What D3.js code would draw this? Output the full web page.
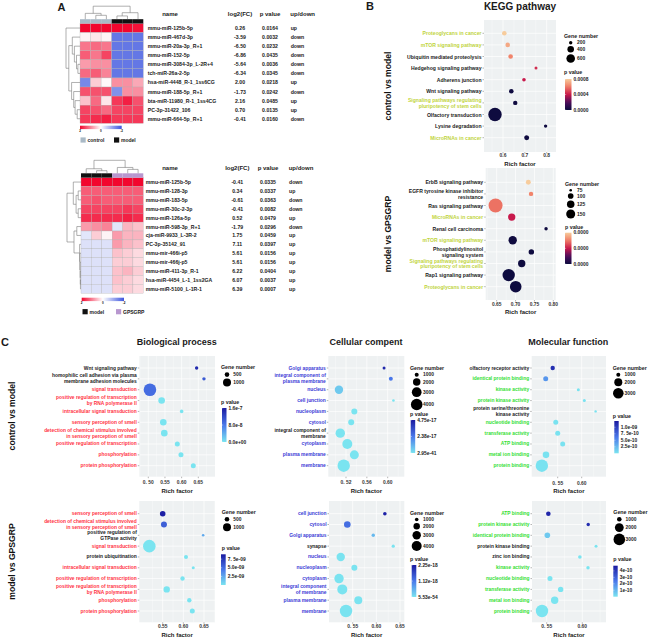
<!DOCTYPE html>
<html>
<head>
<meta charset="utf-8">
<script src="https://cdn.jsdelivr.net/npm/d3@7"></script>
<style>
body { margin: 0; background: #fff; }
svg { font-family: "Liberation Sans", Arial, sans-serif; font-weight: bold; }
</style>
</head>
<body>
<div id="chart"></div>
<script>
// ---------- Panel A : heatmaps + tables ----------
const ctrlMirs = ["mmu-miR-125b-5p","mmu-miR-467d-3p","mmu-miR-20a-3p_R+1","mmu-miR-152-5p","mmu-miR-3084-3p_L-2R+4","tch-miR-26a-2-5p","hsa-miR-4448_R-1_1ss6CG","mmu-miR-188-5p_R+1","bta-miR-11980_R-1_1ss4CG","PC-3p-31422_106","mmu-miR-664-5p_R+1"];
const ctrlLog2fc = [0.26,-3.59,-6.50,-6.86,-5.64,-6.34,2.00,-1.73,2.16,0.70,-0.41];
const ctrlPval = [0.0164,0.0032,0.0232,0.0435,0.0036,0.0345,0.0218,0.0242,0.0485,0.0135,0.0160];
const ctrlUpDown = ["up","down","down","down","down","down","up","down","up","up","down"];
const ctrlGroups = ["control","control","control","model","model","model"];
const ctrlHeat = [
  [2,2,2,2,2,1.9],
  [0.1,0.2,0.1,-1.6,-1.6,-1.6],
  [1.1,1.2,1.1,-1.6,-1.6,-1.6],
  [1.3,1.1,1.5,-1.6,-1.6,-1.6],
  [0.8,0.9,0.9,-1.6,-1.6,-1.6],
  [1.2,1.3,1.0,-1.6,-1.6,-1.6],
  [-1.4,0.4,0.05,0.9,0.9,0.7],
  [1.4,1.4,1.4,-1.3,0.9,0.9],
  [0.5,1.2,0.2,1.6,1.8,1.4],
  [1.5,1.4,1.2,1.5,1.5,1.5],
  [1.6,1.7,1.8,1.6,1.6,1.6]
];
const ctrlColTree = [1, [0.45, 0, [0.3, 1, 2]], [0.5, [0.25, 3, 4], 5]];
const ctrlRowTree = [1, 0, [0.8, [0.55, 1, [0.4, 2, [0.25, 3, [0.15, 4, 5]]]], [0.6, 6, [0.45, 7, [0.35, 8, [0.2, 9, 10]]]]]];

const gpsMirs = ["mmu-miR-125b-5p","mmu-miR-128-3p","mmu-miR-183-5p","mmu-miR-30c-2-3p","mmu-miR-126a-5p","mmu-miR-598-3p_R+1","cja-miR-9933_L-3R-2","PC-3p-35142_91","mmu-mir-466i-p5","mmu-mir-466j-p5","mmu-miR-411-3p_R-1","hsa-miR-4454_L-1_1ss2GA","mmu-miR-5100_L-1R-1"];
const gpsLog2fc = [-0.41,0.34,-0.61,-0.41,0.52,-1.79,1.75,7.11,5.61,5.61,6.22,6.07,6.39];
const gpsPval = [0.0335,0.0337,0.0363,0.0082,0.0479,0.0296,0.0459,0.0397,0.0156,0.0156,0.0404,0.0037,0.0007];
const gpsUpDown = ["down","up","down","down","up","down","up","up","up","up","up","up","up"];
const gpsGroups = ["model","model","model","GPSGRP","GPSGRP","GPSGRP"];
const gpsHeat = [
  [2,2,2,2,2,2],
  [1.3,1.3,1.3,1.3,1.3,1.3],
  [1.3,1.4,1.3,1.3,1.3,1.3],
  [1.5,1.5,1.5,1.5,1.6,1.5],
  [1.7,1.7,1.7,1.7,1.8,1.7],
  [0.8,0.9,1.0,-0.3,0.6,0.5],
  [-0.3,0.4,0.1,0.8,0.6,0.6],
  [-0.35,-0.35,-0.35,0.8,0.6,0.5],
  [-0.35,-0.35,-0.35,0.5,0.4,0.3],
  [-0.35,-0.35,-0.35,0.4,0.4,0.3],
  [-0.35,-0.35,-0.35,0.5,0.6,0.4],
  [-0.35,-0.35,-0.35,0.5,0.4,0.3],
  [-0.35,-0.35,-0.35,0.4,0.4,0.3]
];
const gpsColTree = [1, [0.35, 0, [0.2, 1, 2]], [0.45, 3, [0.3, 4, 5]]];
const gpsRowTree = [1, [0.55, 0, [0.35, [0.2, 1, 2], [0.2, 3, 4]]], [0.5, [0.3, 5, 6], [0.1, 7, [0.08, 8, [0.06, 9, [0.05, 10, [0.04, 11, 12]]]]]]];
const heatKeyValues = [2, 0, -2];
const heatKeyLabels = ["2", "0", "-2"];

// ---------- Panel B : KEGG ----------
const kCtrlTerms = ["Proteoglycans in cancer","mTOR signaling pathway","Ubiquitin mediated proteolysis","Hedgehog signaling pathway","Adherens junction","Wnt signaling pathway","Signaling pathways regulating\npluripotency of stem cells","Olfactory transduction","Lysine degradation","MicroRNAs in cancer"];
const kCtrlRich = [0.606,0.6215,0.635,0.751,0.696,0.638,0.656,0.5634,0.795,0.7085];
const kCtrlGenes = [261,261,261,184,209,261,250,1276,200,286];
const kCtrlP = [0.00080,0.00071,0.00062,0.00044,0.00040,0.00001,0.00001,0.000005,0.00001,0.00001];
const kCtrlMark = [1,1,0,0,0,0,1,0,0,1];
const kCtrlSizeBreaks = [200,400,600];
const kCtrlPTicks = [0.0008,0.0004,0];
const kCtrlXTicks = [0.6,0.7,0.8];
const kCtrlXLabels = ["0.6","0.7","0.8"];

const kGpsTerms = ["ErbB signaling pathway","EGFR tyrosine kinase inhibitor\nresistance","Ras signaling pathway","MicroRNAs in cancer","Renal cell carcinoma","mTOR signaling pathway","Phosphatidylinositol\nsignaling system","Signaling pathways regulating\npluripotency of stem cells","Rap1 signaling pathway","Proteoglycans in cancer"];
const kGpsRich = [0.7338,0.741,0.647,0.6898,0.7808,0.6924,0.7418,0.7163,0.6818,0.7004];
const kGpsGenes = [93,88,266,123,80,139,98,123,223,204];
const kGpsP = [0.000040,0.000031,0.000029,0.000020,0.0000005,0.0000004,0.0000003,0.0000003,0.0000002,0.0000002];
const kGpsMark = [0,0,0,1,0,1,0,1,0,1];
const kGpsSizeBreaks = [75,100,125,150];
const kGpsPTicks = [0.00004,0.00002,0];
const kGpsXTicks = [0.65,0.70,0.75,0.80];
const kGpsXLabels = ["0.65","0.70","0.75","0.80"];

// ---------- Panel C : GO ----------
const bpCtrlTerms = ["Wnt signaling pathway","homophilic cell adhesion via plasma\nmembrane adhesion molecules","signal transduction","positive regulation of transcription\nby RNA polymerase II","intracellular signal transduction","sensory perception of smell","detection of chemical stimulus involved\nin sensory perception of smell","positive regulation of transcription","phosphorylation","protein phosphorylation"];
const bpCtrlRich = [0.645,0.667,0.505,0.540,0.600,0.545,0.548,0.587,0.598,0.635];
const bpCtrlGenes = [388,388,2106,762,404,762,762,545,545,545];
const bpCtrlP = [1.45e-7,1.05e-7,0.9e-7,1e-10,1e-10,1e-10,1e-10,1e-10,1e-10,1e-10];
const bpCtrlMark = [0,0,1,1,1,1,1,1,1,1];
const bpCtrlPTicks = [1.6e-7,8.0e-8,0];
const bpCtrlPLabels = ["1.6e-7","8.0e-8","0.0e+00"];
const bpCtrlXTicks = [0.50,0.55,0.60,0.65];
const bpCtrlXLabels = ["0. 50","0.55","0.60","0.65"];

const bpGpsTerms = ["sensory perception of smell","detection of chemical stimulus involved\nin sensory perception of smell","positive regulation of\nGTPase activity","signal transduction","protein ubiquitination","intracellular signal transduction","positive regulation of transcription","positive regulation of transcription\nby RNA polymerase II","phosphorylation","protein phosphorylation"];
const bpGpsRich = [0.55,0.553,0.648,0.5176,0.6064,0.624,0.598,0.5597,0.6144,0.6217];
const bpGpsGenes = [619,673,332,2106,440,360,479,731,479,545];
const bpGpsP = [8.6e-9,5.6e-9,2.4e-9,2e-11,2e-11,2e-11,2e-11,2e-11,2e-11,2e-11];
const bpGpsMark = [1,1,0,1,0,1,1,1,1,1];
const bpGpsPTicks = [7.5e-9,5.0e-9,2.5e-9];
const bpGpsPLabels = ["7. 5e-09","5.0e-09","2.5e-09"];
const bpGpsXTicks = [0.55,0.60,0.65];
const bpGpsXLabels = ["0.55","0.60","0.65"];
const bpSizeBreaks = [500,1000];

const ccCtrlTerms = ["Golgi apparatus","integral component of\nplasma membrane","nucleus","cell junction","nucleoplasm","cytosol","integral component of\nmembrane","cytoplasm","plasma membrane","membrane"];
const ccCtrlRich = [0.593,0.606,0.5065,0.611,0.536,0.530,0.509,0.5225,0.536,0.5156];
const ccCtrlGenes = [823,1000,2382,766,1507,1507,2833,3128,2647,4490];
const ccCtrlP = [4.4e-17,2.4e-17,6e-18,1e-19,1e-19,1e-19,1e-19,1e-19,1e-19,1e-19];
const ccCtrlMark = [1,1,1,1,1,1,0,1,1,1];
const ccCtrlPTicks = [4.75e-17,2.38e-17,2.95e-41];
const ccCtrlPLabels = ["4.75e-17","2.38e-17","2.95e-41"];
const ccCtrlXTicks = [0.52,0.56,0.60];
const ccCtrlXLabels = ["0. 52","0.56","0.60"];

const ccGpsTerms = ["cell junction","cytosol","Golgi apparatus","synapse","nucleus","nucleoplasm","cytoplasm","integral component\nof membrane","plasma membrane","membrane"];
const ccGpsRich = [0.618,0.5386,0.5935,0.6357,0.5247,0.5535,0.5211,0.528,0.5618,0.5359];
const ccGpsGenes = [1000,2055,952,906,2985,1794,3599,4000,2759,5853];
const ccGpsP = [2.15e-18,1.25e-18,4.5e-19,1e-20,1e-20,1e-20,1e-20,1e-20,1e-20,1e-20];
const ccGpsMark = [1,1,1,0,1,1,1,1,1,1];
const ccGpsPTicks = [2.25e-18,1.12e-18,5.53e-54];
const ccGpsPLabels = ["2.25e-18","1.12e-18","5.53e-54"];
const ccGpsXTicks = [0.55,0.60,0.65];
const ccGpsXLabels = ["0. 55","0.60","0.65"];
const ccSizeBreaks = [1000,2000,3000,4000];

const mfCtrlTerms = ["olfactory receptor activity","identical protein binding","kinase activity","protein kinase activity","protein serine/threonine\nkinase activity","nucleotide binding","transferase activity","ATP binding","metal ion binding","protein binding"];
const mfCtrlRich = [0.5396,0.525,0.593,0.6055,0.629,0.546,0.55,0.5604,0.5256,0.517];
const mfCtrlGenes = [1070,1187,855,855,788,1187,1187,1187,1572,3858];
const mfCtrlP = [1.1e-9,4.5e-10,1e-11,1e-11,1e-11,1e-11,1e-11,1e-11,1e-11,1e-11];
const mfCtrlMark = [0,1,1,1,0,1,1,1,1,1];
const mfCtrlPTicks = [1.0e-9,7.5e-10,5.0e-10,2.5e-10];
const mfCtrlPLabels = ["1.0e-09","7. 5e-10","5.0e-10","2.5e-10"];
const mfCtrlXTicks = [0.55,0.60];
const mfCtrlXLabels = ["0. 55","0.60"];

const mfGpsTerms = ["ATP binding","protein kinase activity","identical protein binding","protein kinase binding","zinc ion binding","kinase activity","nucleotide binding","transferase activity","metal ion binding","protein binding"];
const mfGpsRich = [0.5523,0.6083,0.5509,0.6193,0.5966,0.608,0.5546,0.5696,0.5612,0.5434];
const mfGpsGenes = [1000,831,1180,785,855,831,1068,1141,1593,3340];
const mfGpsP = [4.5e-10,4.3e-10,6e-11,1e-12,1e-12,1e-12,1e-12,1e-12,1e-12,1e-12];
const mfGpsMark = [1,1,1,0,0,1,1,1,1,1];
const mfGpsPTicks = [4e-10,3e-10,2e-10,1e-10];
const mfGpsPLabels = ["4e-10","3e-10","2e-10","1e-10"];
const mfGpsXTicks = [0.55,0.60];
const mfGpsXLabels = ["0. 55","0.60"];
const mfSizeBreaks = [1000,2000,3000];

// ---------- drawing ----------
const W = 650, H = 639;
const svg = d3.select("#chart").append("svg").attr("width", W).attr("height", H);
const defs = svg.append("defs");
let gradId = 0;

function label(g, str, x, y, size, anchor, fill, lineH) {
  const lines = str.split("\n");
  lines.forEach(function(l, i) {
    g.append("text")
      .attr("x", x)
      .attr("y", y + (i - (lines.length - 1) / 2) * (lineH || size * 1.2))
      .attr("dominant-baseline", "central")
      .attr("text-anchor", anchor)
      .attr("font-size", size)
      .attr("fill", fill || "#1a1a1a")
      .text(l);
  });
}

/* heatmap with dendrograms and table */
const heatColor = d3.scaleLinear().domain([-2, 0, 2]).range(["#3d55de", "#ffffff", "#f2062e"]);
const groupColor = {control: "#a9b9c6", model: "#111111", GPSGRP: "#b897cf"};

function drawTree(g, tree, leafPos, base, depth, orient) {
  const hs = d3.scaleLinear().domain([0, 1]).range([0, depth]);
  function walk(node) {
    if (typeof node === "number") return {p: leafPos(node), h: 0};
    const A = walk(node[1]), B = walk(node[2]);
    const n = base - hs(node[0]);
    [A, B].forEach(function(c) {
      const c0 = base - hs(c.h);
      if (orient === "left") g.append("line").attr("x1", c0).attr("x2", n).attr("y1", c.p).attr("y2", c.p);
      else g.append("line").attr("y1", c0).attr("y2", n).attr("x1", c.p).attr("x2", c.p);
    });
    if (orient === "left") g.append("line").attr("x1", n).attr("x2", n).attr("y1", A.p).attr("y2", B.p);
    else g.append("line").attr("y1", n).attr("y2", n).attr("x1", A.p).attr("x2", B.p);
    return {p: (A.p + B.p) / 2, h: node[0]};
  }
  walk(tree);
}

function heatPanel(d, L) {
  const g = svg.append("g");
  const x = d3.scaleBand().domain(d3.range(6)).range([L.hx0, L.hx1]);
  const y = d3.scaleBand().domain(d3.range(d.names.length)).range([L.hy0, L.hy1]);
  const cells = [];
  d.heat.forEach(function(row, r) { row.forEach(function(v, c) { cells.push({r: r, c: c, v: v}); }); });
  g.selectAll("rect.cell").data(cells).join("rect")
    .attr("x", c => x(c.c)).attr("y", c => y(c.r))
    .attr("width", x.bandwidth()).attr("height", y.bandwidth())
    .attr("fill", c => heatColor(c.v)).attr("stroke", "#b0b0b0").attr("stroke-width", 0.3);
  // annotation bar
  g.selectAll("rect.ann").data(d.groups).join("rect")
    .attr("x", (k, i) => x(i)).attr("y", L.hy0 - 4.3).attr("width", x.bandwidth()).attr("height", 4.3)
    .attr("fill", k => groupColor[k]);
  const tg = g.append("g").attr("stroke", "#7a7a7a").attr("stroke-width", 0.6);
  drawTree(tg, d.colTree, i => x(i) + x.bandwidth() / 2, L.hy0 - 4.3, 13, "top");
  drawTree(tg, d.rowTree, i => y(i) + y.bandwidth() / 2, L.hx0, 14, "left");
  // colour key
  const gid = "hk" + (gradId++);
  const gr = defs.append("linearGradient").attr("id", gid);
  d.keyValues.forEach(function(v, i) {
    gr.append("stop").attr("offset", i / (d.keyValues.length - 1)).attr("stop-color", heatColor(v));
  });
  const kx = d3.scalePoint().domain(d.keyValues).range([L.kx0, L.kx1]);
  g.append("rect").attr("x", L.kx0).attr("y", L.ky).attr("width", L.kx1 - L.kx0).attr("height", 3.4).attr("fill", "url(#" + gid + ")");
  d.keyValues.forEach(function(v, i) {
    g.append("text").attr("x", kx(v)).attr("y", L.ky + 6.5).attr("text-anchor", "middle").attr("font-size", 3).text(d.keyLabels[i]);
  });
  // group legend
  const uniq = Array.from(new Set(d.groups));
  uniq.forEach(function(k, i) {
    const lx = L.lx[i];
    g.append("rect").attr("x", lx).attr("y", L.ly - 2.6).attr("width", 5.2).attr("height", 5.2).attr("fill", groupColor[k]);
    label(g, k, lx + 7, L.ly, 5, "start");
  });
  // table
  const hy = L.tHead;
  label(g, "name", L.cName, hy, 6, "middle");
  label(g, "log2(FC)", L.cFc, hy, 6, "middle");
  label(g, "p value", L.cP, hy, 6, "middle");
  label(g, "up/down", L.cUd + 12, hy, 6, "middle");
  const f2 = d3.format(".2f"), f4 = d3.format(".4f");
  d.names.forEach(function(n, i) {
    const cy = y(i) + y.bandwidth() / 2;
    label(g, n, L.nameX, cy, 5.2, "start", "#222");
    label(g, f2(d.fc[i]).replace("−", "-"), L.cFc, cy, 5.2, "middle");
    label(g, f4(d.p[i]), L.cP, cy, 5.2, "middle");
    label(g, d.ud[i], L.cUd, cy, 5.2, "start");
  });
}

heatPanel({names: ctrlMirs, fc: ctrlLog2fc, p: ctrlPval, ud: ctrlUpDown, heat: ctrlHeat, groups: ctrlGroups,
  colTree: ctrlColTree, rowTree: ctrlRowTree, keyValues: heatKeyValues, keyLabels: heatKeyLabels},
  {hx0: 80, hx1: 143.3, hy0: 23.5, hy1: 123.3, kx0: 80, kx1: 121.7, ky: 125.7, lx: [80.5, 114], ly: 140,
   tHead: 14.3, cName: 170, cFc: 240, cP: 270, cUd: 290.7, nameX: 147.7});

heatPanel({names: gpsMirs, fc: gpsLog2fc, p: gpsPval, ud: gpsUpDown, heat: gpsHeat, groups: gpsGroups,
  colTree: gpsColTree, rowTree: gpsRowTree, keyValues: heatKeyValues, keyLabels: heatKeyLabels},
  {hx0: 81, hx1: 143.3, hy0: 177.6, hy1: 293.3, kx0: 81.7, kx1: 124, ky: 297.7, lx: [82.5, 116], ly: 311.7,
   tHead: 168.3, cName: 170, cFc: 237.3, cP: 268, cUd: 289, nameX: 145.7});

/* bubble panels */
function dotPanel(d, L) {
  const g = svg.append("g");
  const x = d3.scaleLinear().domain([d.xTicks[0], d.xTicks[d.xTicks.length - 1]]).range(L.xr);
  const y = d3.scalePoint().domain(d3.range(d.terms.length)).range([L.rowTop, L.rowBot]);
  const sb = d.sizeBreaks;
  const area = d3.scaleLinear().domain([sb[0], sb[sb.length - 1]]).range([L.rA * L.rA, L.rB * L.rB]);
  const rad = n => Math.sqrt(Math.max(0.7, area(n)));
  const pd = d.pDomain;
  const color = d3.scaleLinear()
    .domain(L.colors.map((c, i) => pd[0] + (pd[1] - pd[0]) * i / (L.colors.length - 1)))
    .range(L.colors);

  g.append("rect").attr("x", L.x0).attr("y", L.y0).attr("width", L.x1 - L.x0).attr("height", L.y1 - L.y0).attr("fill", "#eef1f2");
  const step = x(d.xTicks[1]) - x(d.xTicks[0]);
  const minor = [];
  for (let px = x(d.xTicks[0]) - step * 1.5; px < L.x1; px += step) minor.push(px);
  g.selectAll("line.mi").data(minor.filter(p => p > L.x0)).join("line")
    .attr("x1", p => p).attr("x2", p => p).attr("y1", L.y0).attr("y2", L.y1).attr("stroke", "#fff").attr("stroke-width", 0.35);
  g.selectAll("line.mj").data(d.xTicks).join("line")
    .attr("x1", v => x(v)).attr("x2", v => x(v)).attr("y1", L.y0).attr("y2", L.y1).attr("stroke", "#fff").attr("stroke-width", 0.7);
  g.selectAll("line.rw").data(d.terms.map((t, i) => i)).join("line")
    .attr("x1", L.x0).attr("x2", L.x1).attr("y1", i => y(i)).attr("y2", i => y(i)).attr("stroke", "#fff").attr("stroke-width", 0.7);

  g.selectAll("circle.dot").data(d.terms.map((t, i) => i)).join("circle")
    .attr("cx", i => x(d.rich[i])).attr("cy", i => y(i))
    .attr("r", i => rad(d.genes[i])).attr("fill", i => color(d.pval[i]));

  d.terms.forEach(function(t, i) {
    g.append("line").attr("x1", L.x0 - 1.5).attr("x2", L.x0).attr("y1", y(i)).attr("y2", y(i)).attr("stroke", "#444").attr("stroke-width", 0.4);
    label(g, t, L.x0 - 2.5, y(i), L.fs, "end", d.mark[i] ? L.markColor : "#1a1a1a", 5.9);
  });
  d.xTicks.forEach(function(v, i) {
    g.append("line").attr("x1", x(v)).attr("x2", x(v)).attr("y1", L.y1).attr("y2", L.y1 + 1.5).attr("stroke", "#444").attr("stroke-width", 0.4);
    label(g, d.xLabels[i], x(v), L.tickY, 4.9, "middle", "#333");
  });
  label(g, "Rich factor", (L.x0 + L.x1) / 2, L.rfY, 6, "middle");

  // size legend
  const Lg = L.leg;
  label(g, "Gene number", Lg.x, Lg.gy, 5.3, "start");
  let cy = Lg.gy + 5, prev = 0;
  sb.forEach(function(b, i) {
    const r = rad(b);
    cy += (i === 0 ? r : prev + r + 1.6);
    prev = r;
    g.append("circle").attr("cx", Lg.cx).attr("cy", cy).attr("r", r).attr("fill", "#000");
    label(g, d3.format("d")(b), Lg.cx + 6.3, cy, 4.9, "start");
  });
  // colour legend
  label(g, "p value", Lg.x, Lg.py, 5.3, "start");
  const gid = "cb" + (gradId++);
  const gr = defs.append("linearGradient").attr("id", gid).attr("x1", 0).attr("x2", 0).attr("y1", 0).attr("y2", 1);
  d3.range(11).forEach(function(k) {
    gr.append("stop").attr("offset", k / 10).attr("stop-color", color(pd[1] - (pd[1] - pd[0]) * k / 10));
  });
  g.append("rect").attr("x", Lg.bx).attr("y", Lg.by0).attr("width", Lg.bw).attr("height", Lg.by1 - Lg.by0).attr("fill", "url(#" + gid + ")");
  const cbY = d3.scaleLinear().domain(pd).range([Lg.by1, Lg.by0]);
  d.pTicks.forEach(function(v, i) {
    g.append("line").attr("x1", Lg.bx).attr("x2", Lg.bx + 1.2).attr("y1", cbY(v)).attr("y2", cbY(v)).attr("stroke", "#fff").attr("stroke-width", 0.4);
    label(g, d.pLabels[i], Lg.bx + Lg.bw + 2, cbY(v), 4.9, "start");
  });
}

const keggColors = ["#0c0b3e", "#4d0d5c", "#c81a4c", "#f07c66", "#f7cc9c"];
const goColors = ["#7ae4f0", "#4a78ea", "#1a1aa0"];
const fmtP = d3.format(".4f");
const kegYellow = "#bfd43c", goRed = "#ff3344", goBlue = "#3b3bd6", goGreen = "#33e033";

dotPanel({terms: kCtrlTerms, rich: kCtrlRich, genes: kCtrlGenes, pval: kCtrlP, mark: kCtrlMark, sizeBreaks: kCtrlSizeBreaks,
  pDomain: [0, 0.0008], pTicks: kCtrlPTicks, pLabels: kCtrlPTicks.map(fmtP), xTicks: kCtrlXTicks, xLabels: kCtrlXLabels},
  {x0: 484, x1: 556, y0: 20, y1: 152, rowTop: 33.3, rowBot: 137.7, xr: [503, 546.7], rA: 1.7, rB: 4.3,
   colors: keggColors, markColor: kegYellow, fs: 5.1, tickY: 155.5, rfY: 163.5,
   leg: {x: 564, gy: 36, cx: 570.7, py: 71.7, bx: 565, bw: 6.5, by0: 79, by1: 110}});

dotPanel({terms: kGpsTerms, rich: kGpsRich, genes: kGpsGenes, pval: kGpsP, mark: kGpsMark, sizeBreaks: kGpsSizeBreaks,
  pDomain: [0, 0.00004], pTicks: kGpsPTicks, pLabels: kGpsPTicks.map(fmtP), xTicks: kGpsXTicks, xLabels: kGpsXLabels},
  {x0: 485.7, x1: 555.7, y0: 168, y1: 300, rowTop: 182.3, rowBot: 286.7, xr: [496.7, 553.3], rA: 1.3, rB: 4.5,
   colors: keggColors, markColor: kegYellow, fs: 5.1, tickY: 304, rfY: 312,
   leg: {x: 565, gy: 184, cx: 570.7, py: 226.7, bx: 565, bw: 6.5, by0: 232.7, by1: 264}});

dotPanel({terms: bpCtrlTerms, rich: bpCtrlRich, genes: bpCtrlGenes, pval: bpCtrlP, mark: bpCtrlMark, sizeBreaks: bpSizeBreaks,
  pDomain: [0, 1.6e-7], pTicks: bpCtrlPTicks, pLabels: bpCtrlPLabels, xTicks: bpCtrlXTicks, xLabels: bpCtrlXLabels},
  {x0: 139.3, x1: 215, y0: 356, y1: 476.7, rowTop: 368, rowBot: 465.7, xr: [148.3, 198.3], rA: 2.3, rB: 4,
   colors: goColors, markColor: goRed, fs: 4.9, tickY: 482.7, rfY: 491,
   leg: {x: 221, gy: 367.3, cx: 227, py: 402.3, bx: 222, bw: 4.5, by0: 408, by1: 442}});

dotPanel({terms: bpGpsTerms, rich: bpGpsRich, genes: bpGpsGenes, pval: bpGpsP, mark: bpGpsMark, sizeBreaks: bpSizeBreaks,
  pDomain: [0, 8.9e-9], pTicks: bpGpsPTicks, pLabels: bpGpsPLabels, xTicks: bpGpsXTicks, xLabels: bpGpsXLabels},
  {x0: 139.3, x1: 215, y0: 501, y1: 622.3, rowTop: 513.7, rowBot: 611, xr: [162.7, 204], rA: 2.3, rB: 4,
   colors: goColors, markColor: goRed, fs: 4.9, tickY: 626.7, rfY: 635,
   leg: {x: 221.7, gy: 512, cx: 227, py: 548.3, bx: 221, bw: 4.7, by0: 554.3, by1: 585}});

dotPanel({terms: ccCtrlTerms, rich: ccCtrlRich, genes: ccCtrlGenes, pval: ccCtrlP, mark: ccCtrlMark, sizeBreaks: ccSizeBreaks,
  pDomain: [2.95e-41, 4.75e-17], pTicks: ccCtrlPTicks, pLabels: ccCtrlPLabels, xTicks: ccCtrlXTicks, xLabels: ccCtrlXLabels},
  {x0: 328.3, x1: 404.3, y0: 356, y1: 476.7, rowTop: 368, rowBot: 465.7, xr: [346, 387.7], rA: 2, rB: 5.8,
   colors: goColors, markColor: goBlue, fs: 4.9, tickY: 482.7, rfY: 491,
   leg: {x: 410, gy: 367.7, cx: 416.7, py: 414.3, bx: 410.7, bw: 4.5, by0: 420, by1: 453}});

dotPanel({terms: ccGpsTerms, rich: ccGpsRich, genes: ccGpsGenes, pval: ccGpsP, mark: ccGpsMark, sizeBreaks: ccSizeBreaks,
  pDomain: [5.53e-54, 2.25e-18], pTicks: ccGpsPTicks, pLabels: ccGpsPLabels, xTicks: ccGpsXTicks, xLabels: ccGpsXLabels},
  {x0: 329, x1: 404.3, y0: 501, y1: 622.3, rowTop: 513.7, rowBot: 611, xr: [352.7, 400], rA: 1.8, rB: 5,
   colors: goColors, markColor: goBlue, fs: 4.9, tickY: 626.7, rfY: 635,
   leg: {x: 410, gy: 512.7, cx: 416.7, py: 559.3, bx: 411.7, bw: 4.6, by0: 565, by1: 597}});

dotPanel({terms: mfCtrlTerms, rich: mfCtrlRich, genes: mfCtrlGenes, pval: mfCtrlP, mark: mfCtrlMark, sizeBreaks: mfSizeBreaks,
  pDomain: [0, 1.24e-9], pTicks: mfCtrlPTicks, pLabels: mfCtrlPLabels, xTicks: mfCtrlXTicks, xLabels: mfCtrlXLabels},
  {x0: 531.7, x1: 606, y0: 356, y1: 476.7, rowTop: 368, rowBot: 465.7, xr: [557.7, 581.7], rA: 2, rB: 5.3,
   colors: goColors, markColor: goGreen, fs: 4.9, tickY: 483.3, rfY: 491,
   leg: {x: 612.7, gy: 367.7, cx: 618.3, py: 415.7, bx: 614.3, bw: 4.4, by0: 421, by1: 453.3}});

dotPanel({terms: mfGpsTerms, rich: mfGpsRich, genes: mfGpsGenes, pval: mfGpsP, mark: mfGpsMark, sizeBreaks: mfSizeBreaks,
  pDomain: [0, 4.8e-10], pTicks: mfGpsPTicks, pLabels: mfGpsPLabels, xTicks: mfGpsXTicks, xLabels: mfGpsXLabels},
  {x0: 532, x1: 606, y0: 501, y1: 622.3, rowTop: 513.7, rowBot: 611, xr: [546.7, 582.3], rA: 2.3, rB: 5.8,
   colors: goColors, markColor: goGreen, fs: 4.9, tickY: 626.7, rfY: 635,
   leg: {x: 613.3, gy: 512, cx: 619.3, py: 559.3, bx: 613.3, bw: 4.4, by0: 565.7, by1: 596.7}});

/* titles and side labels */
const tg = svg.append("g");
label(tg, "A", 61.5, 6.5, 11, "middle");
label(tg, "B", 370, 6, 11, "middle");
label(tg, "C", 5, 341.7, 11, "middle");
label(tg, "KEGG pathway", 520, 6, 10, "middle");
label(tg, "Biological process", 176.7, 341.7, 9, "middle");
label(tg, "Cellular compent", 366, 341.7, 9, "middle");
label(tg, "Molecular function", 568.3, 342.3, 9, "middle");

function sideLabel(txt, x, y, size) {
  tg.append("text").attr("transform", "translate(" + x + "," + y + ") rotate(-90)")
    .attr("text-anchor", "middle").attr("dominant-baseline", "central")
    .attr("font-size", size).attr("fill", "#111").text(txt);
}
sideLabel("control vs model", 388, 86, 8.6);
sideLabel("model vs GPSGRP", 388, 234, 8.6);
sideLabel("control vs model", 11.7, 416, 8.6);
sideLabel("model vs GPSGRP", 11.7, 561.5, 8.6);
</script>
</body>
</html>
